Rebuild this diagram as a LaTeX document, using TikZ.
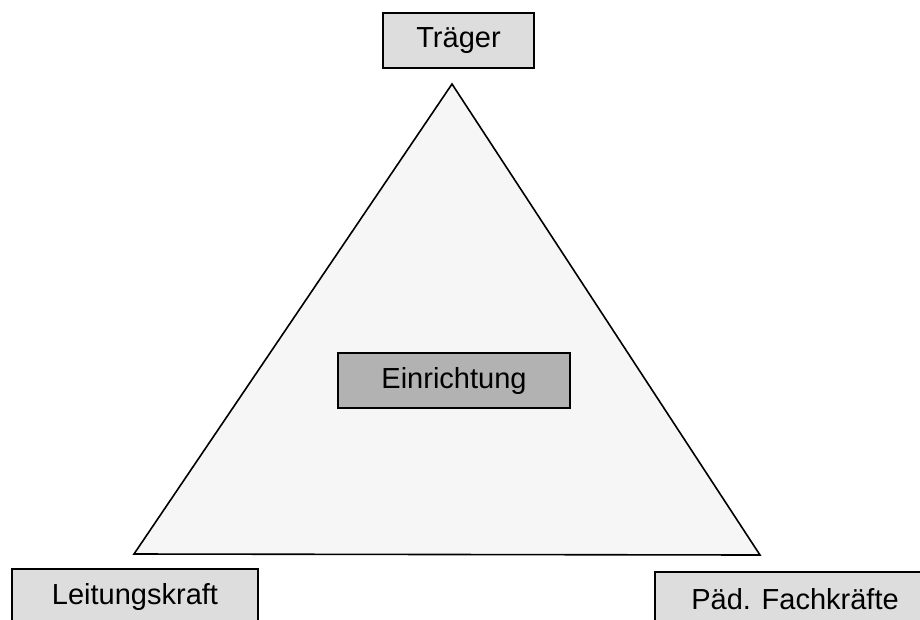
\documentclass[tikz,border=0pt]{standalone}
\usepackage{fontspec}
\setmainfont{Liberation Sans}
\usepackage{tikz}
\usetikzlibrary{positioning}
\definecolor{boxgray}{RGB}{221,221,221}
\definecolor{darkgray}{RGB}{178,178,178}
\definecolor{trigray}{RGB}{246,246,246}
\tikzstyle{role} = [rectangle, draw, fill=boxgray, line width=1.4pt,
    minimum height=55pt, inner sep=0pt, font=\fontsize{29}{34}\selectfont]
\tikzstyle{center} = [role, fill=darkgray]

\begin{document}
\begin{tikzpicture}[x=1pt, y=-1pt]
        \useasboundingbox (0,0) rectangle (920,619);
        % triangle
        \coordinate (apex) at (452,84);
        \coordinate (left) at (134,554);
        \coordinate (right) at (760,555);
        \draw [fill=trigray, line width=1.6pt, line join=miter] (apex) -- (left) -- (right) -- cycle;
        % nodes
        \node [role, minimum width=151pt] (traeger) at (458.5,40.5) {Träger};
        \node [center, minimum width=232pt] (einrichtung) at (454,380.5) {Einrichtung};
        \node [role, minimum width=246pt] (leitung) at (135,596.5) {Leitungskraft};
        \node [role, minimum width=280pt] (fachkraefte) at (795,599.5) {Päd. Fachkräfte};
    \end{tikzpicture}
\end{document}
